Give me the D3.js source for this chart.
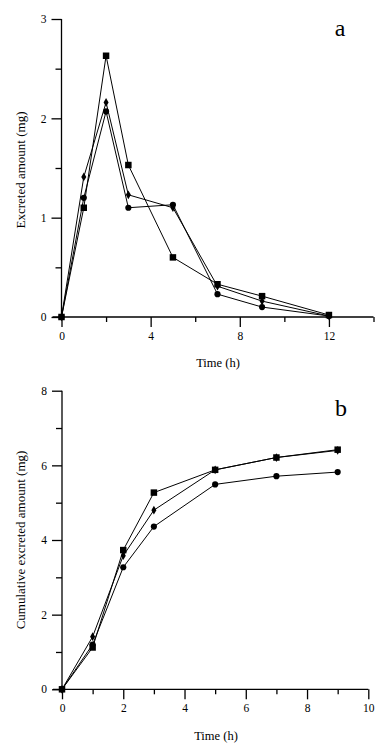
<!DOCTYPE html>
<html><head><meta charset="utf-8">
<script src="https://cdn.jsdelivr.net/npm/d3@7"></script>
<style>
html,body{margin:0;padding:0;background:#fff;}
</style></head>
<body><svg id="c" width="378" height="753"></svg>
<script>
// Panel a: excreted amount (mg) vs time (h)
const timesA = [0, 1, 2, 3, 5, 7, 9, 12];
const squareA = [0, 1.10, 2.63, 1.53, 0.60, 0.33, 0.21, 0.02];
const diamondA = [0, 1.41, 2.16, 1.23, 1.10, 0.31, 0.16, 0.01];
const circleA = [0, 1.20, 2.07, 1.10, 1.13, 0.23, 0.10, 0.01];
const xTicksA = [0, 4, 8, 12];
const xMinorA = [2, 6, 10, 14];
const yTicksA = [0, 1, 2, 3];
const yMinorA = [0.5, 1.5, 2.5];

// Panel b: cumulative excreted amount (mg) vs time (h)
const timesB = [0, 1, 2, 3, 5, 7, 9];
const squareB = [0, 1.12, 3.73, 5.27, 5.88, 6.21, 6.42];
const diamondB = [0, 1.41, 3.58, 4.80, 5.88, 6.21, 6.40];
const circleB = [0, 1.20, 3.27, 4.36, 5.49, 5.71, 5.82];
const xTicksB = [0, 2, 4, 6, 8, 10];
const xMinorB = [1, 3, 5, 7, 9];
const yTicksB = [0, 2, 4, 6, 8];
const yMinorB = [1, 3, 5, 7];

const FONT = "'Liberation Serif', 'Times New Roman', Times, serif";
const svg = d3.select("#c");

function panel(cfg){
  const g = svg.append("g");
  const x = d3.scaleLinear().domain(cfg.xDomain).range(cfg.xRange);
  const y = d3.scaleLinear().domain(cfg.yDomain).range(cfg.yRange);
  const x0 = cfg.xRange[0], y0 = cfg.yRange[0];

  // x axis
  const xa = g.append("g").attr("transform", `translate(0,${y0})`)
    .call(d3.axisBottom(x).tickValues(cfg.xTicks).tickSize(10).tickPadding(5).tickFormat(d3.format("d")));
  xa.select(".domain").attr("d", `M${x(cfg.xDomain[0]) - 9},0H${cfg.xRange[1]}`);
  g.append("g").attr("transform", `translate(0,${y0})`)
    .call(d3.axisBottom(x).tickValues(cfg.xMinor).tickSize(5).tickFormat(""))
    .select(".domain").remove();

  // y axis
  const ya = g.append("g").attr("transform", `translate(${x0},0)`)
    .call(d3.axisLeft(y).tickValues(cfg.yTicks).tickSize(10).tickPadding(5).tickFormat(d3.format("d")));
  ya.select(".domain").attr("d", `M0,${y0}V${cfg.yRange[1]}`);
  g.append("g").attr("transform", `translate(${x0},0)`)
    .call(d3.axisLeft(y).tickValues(cfg.yMinor).tickSize(6).tickFormat(""))
    .select(".domain").remove();

  g.selectAll("g").attr("font-family", null).attr("font-size", null);
  g.selectAll(".domain, .tick line").attr("stroke", "#000").attr("stroke-width", 1.3);
  g.selectAll(".tick text").style("font-family", FONT).style("font-size", "11.5px");

  const line = d3.line().x(d => x(d[0])).y(d => y(d[1]));
  const series = [
    {vals: cfg.circle, sym: d3.symbolCircle, size: 30},
    {vals: cfg.diamond, sym: d3.symbolDiamond, size: 22},
    {vals: cfg.square, sym: d3.symbolSquare, size: 42}
  ];
  series.forEach(s => {
    const pts = cfg.times.map((t, i) => [t, s.vals[i]]);
    g.append("path").datum(pts).attr("d", line).attr("fill", "none")
      .attr("stroke", "#000").attr("stroke-width", 1);
  });
  series.forEach(s => {
    const pts = cfg.times.map((t, i) => [t, s.vals[i]]);
    g.selectAll(null).data(pts).enter().append("path")
      .attr("d", d3.symbol().type(s.sym).size(s.size))
      .attr("transform", d => `translate(${x(d[0])},${y(d[1])})`)
      .attr("fill", "#000");
  });

  // labels
  g.append("text").attr("x", cfg.xTitle[0]).attr("y", cfg.xTitle[1])
    .attr("text-anchor", "middle").style("font-family", FONT).style("font-size", "12.5px").text("Time (h)");
  g.append("text").attr("transform", `translate(${cfg.yTitle[0]},${cfg.yTitle[1]}) rotate(-90)`)
    .attr("text-anchor", "middle").style("font-family", FONT).style("font-size", "13px").text(cfg.yLabel);
  g.append("text").attr("x", cfg.tag[0]).attr("y", cfg.tag[1])
    .attr("text-anchor", "middle").style("font-family", FONT).style("font-size", "24px").text(cfg.tagText);
}

panel({
  times: timesA, square: squareA, diamond: diamondA, circle: circleA,
  xDomain: [0, 14], xRange: [61.5, 373.5], yDomain: [0, 3], yRange: [317, 19],
  xTicks: xTicksA, xMinor: xMinorA, yTicks: yTicksA, yMinor: yMinorA,
  xTitle: [218, 367], yTitle: [25, 170], yLabel: "Excreted amount (mg)",
  tag: [340, 36], tagText: "a"
});

panel({
  times: timesB, square: squareB, diamond: diamondB, circle: circleB,
  xDomain: [0, 10], xRange: [62, 368.3], yDomain: [0, 8], yRange: [689.3, 390.7],
  xTicks: xTicksB, xMinor: xMinorB, yTicks: yTicksB, yMinor: yMinorB,
  xTitle: [216, 740], yTitle: [25, 540], yLabel: "Cumulative excreted amount (mg)",
  tag: [341, 416], tagText: "b"
});
</script></body></html>
